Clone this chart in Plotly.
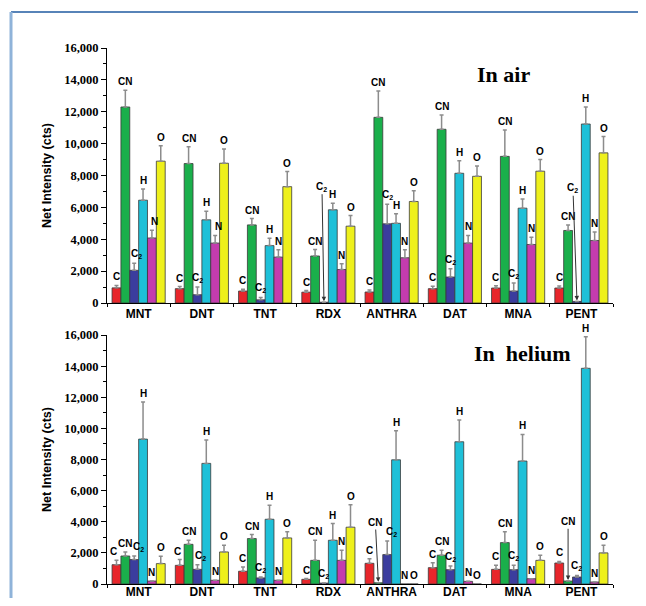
import plotly.graph_objects as go

categories = ["MNT", "DNT", "TNT", "RDX", "ANTHRA", "DAT", "MNA", "PENT"]
series_names = ["C", "CN", "C2", "H", "N", "O"]
series_labels = ["C", "CN", "C<sub>2</sub>", "H", "N", "O"]
series_colors = ["#e8262b", "#1aaf4b", "#3b3d9e", "#1ec0d8", "#c43cae", "#eef01c"]

# In air
air_C = [950, 900, 750, 680, 690, 900, 940, 940]
air_C_err = [150, 130, 120, 100, 120, 150, 150, 130]
air_CN = [12300, 8750, 4900, 2950, 11650, 10900, 9200, 4550]
air_CN_err = [1050, 1050, 400, 400, 1650, 900, 1650, 350]
air_C2 = [2050, 520, 200, 50, 4970, 1630, 750, 100]
air_C2_err = [450, 480, 150, 0, 1230, 520, 500, 0]
air_H = [6450, 5220, 3600, 5850, 5000, 8140, 5950, 11230]
air_H_err = [700, 540, 470, 410, 600, 790, 580, 1070]
air_N = [4080, 3760, 2880, 2100, 2840, 3760, 3670, 3920]
air_N_err = [480, 480, 460, 360, 500, 480, 460, 530]
air_O = [8900, 8770, 7300, 4820, 6370, 7950, 8270, 9420]
air_O_err = [970, 900, 950, 670, 680, 650, 730, 1020]

# In helium
he_C = [1240, 1200, 820, 300, 1330, 1050, 940, 1350]
he_C_err = [280, 370, 280, 50, 300, 320, 260, 100]
he_CN = [1800, 2550, 2920, 1520, 80, 1850, 2660, 190]
he_CN_err = [260, 260, 260, 1290, 0, 320, 690, 0]
he_C2 = [1570, 940, 390, 60, 1890, 920, 920, 450]
he_C2_err = [230, 300, 60, 0, 880, 240, 280, 100]
he_H = [9310, 7750, 4160, 2810, 7980, 9140, 7900, 13860]
he_H_err = [2390, 1500, 900, 1070, 1870, 1400, 1710, 2020]
he_N = [190, 240, 240, 1520, 0, 170, 340, 130]
he_N_err = [0, 0, 0, 650, 0, 0, 0, 0]
he_O = [1310, 2060, 2960, 3650, 0, 0, 1520, 2000]
he_O_err = [470, 430, 390, 1450, 0, 0, 330, 490]

y_ticks = [0, 2000, 4000, 6000, 8000, 10000, 12000, 14000, 16000]

air_vals = [air_C, air_CN, air_C2, air_H, air_N, air_O]
air_errs = [air_C_err, air_CN_err, air_C2_err, air_H_err, air_N_err, air_O_err]
he_vals = [he_C, he_CN, he_C2, he_H, he_N, he_O]
he_errs = [he_C_err, he_CN_err, he_C2_err, he_H_err, he_N_err, he_O_err]

# labels drawn with arrows: (panel, series index, category index, label height, x offset px)
arrow_labels = [
    ("air", 2, 3, 7300, -2),
    ("air", 2, 7, 7200, -4),
    ("he", 1, 4, 3950, -3),
    ("he", 1, 7, 4000, 0),
]
# small horizontal nudges of plain labels: (panel, series, category, px)
label_nudges = [
    ("he", 0, 0, -3), ("he", 2, 0, 4),
    ("he", 2, 4, 4), ("he", 0, 1, -2), ("he", 2, 1, 3),
    ("air", 4, 0, 3), ("air", 4, 1, 3), ("air", 2, 0, 2),
]

# page body has an 8 px margin, so the figure is drawn inside it
PAD = 8
W, H = 646 - 2 * PAD, 606 - 2 * PAD


def px(x):
    return (x - PAD) / W


def py(y):
    return 1 - (y - PAD) / H


BARGAP = 0.16
nser = len(series_names)
bw = (1 - BARGAP) / nser
offsets = [-(1 - BARGAP) / 2 + bw * (i + 0.5) for i in range(nser)]

fig = go.Figure()
annotations = []
label_font = dict(family="Liberation Sans, Arial", size=10, color="black", weight="bold")

for panel, vals, errs, xa, ya in [("air", air_vals, air_errs, "x", "y"),
                                  ("he", he_vals, he_errs, "x2", "y2")]:
    for i in range(nser):
        fig.add_trace(go.Bar(
            x=categories, y=vals[i], name=series_names[i],
            xaxis=xa, yaxis=ya,
            marker=dict(color=series_colors[i], line=dict(color="#3a3a3a", width=0.8)),
            error_y=dict(type="data", array=errs[i], arrayminus=[0] * len(categories),
                         symmetric=False, color="#8c8c8c", thickness=1.5, width=2),
            showlegend=False,
        ))
        for j in range(len(categories)):
            spec = [a for a in arrow_labels if a[0] == panel and a[1] == i and a[2] == j]
            nud = [a[3] for a in label_nudges if a[0] == panel and a[1] == i and a[2] == j]
            xpos = j + offsets[i]
            if spec:
                annotations.append(dict(
                    x=xpos, y=vals[i][j] + errs[i][j] + 60, xref=xa, yref=ya,
                    text=series_labels[i], showarrow=True, axref="pixel", ax=spec[0][4],
                    ayref=ya, ay=spec[0][3], arrowhead=2, arrowsize=0.9,
                    arrowwidth=1, arrowcolor="#333333", font=label_font,
                ))
            else:
                annotations.append(dict(
                    x=xpos, y=vals[i][j] + errs[i][j], xref=xa, yref=ya,
                    text=series_labels[i], showarrow=False, yanchor="bottom",
                    xanchor="center", yshift=1, xshift=(nud[0] if nud else 0),
                    font=label_font,
                ))

annotations.append(dict(x=px(503), y=py(75), xref="paper", yref="paper",
                        xanchor="center", yanchor="middle",
                        text="In air", showarrow=False,
                        font=dict(family="Liberation Serif, Times New Roman, serif", size=22,
                                  color="black", weight="bold")))
annotations.append(dict(x=px(522), y=py(353), xref="paper", yref="paper",
                        xanchor="center", yanchor="middle",
                        text="In\u00a0 helium", showarrow=False,
                        font=dict(family="Liberation Serif, Times New Roman, serif", size=22,
                                  color="black", weight="bold")))

xdom = [px(107), px(613)]
ydom_top = [py(303), py(48)]
ydom_bot = [py(584), py(335)]

yaxis_common = dict(
    range=[0, 16000], tickvals=y_ticks, tickformat=",d",
    ticks="outside", ticklen=5, tickcolor="black", tickwidth=1,
    minor=dict(dtick=1000, ticks="outside", ticklen=3, tickcolor="black"),
    showline=True, linecolor="black", linewidth=1, showgrid=False, zeroline=False,
    tickfont=dict(family="Liberation Serif, Times New Roman, serif", size=12.5,
                  color="black", weight="bold"),
    title=dict(text="Net Intensity (cts)", standoff=9,
               font=dict(family="Liberation Sans, Arial", size=12.5, color="black", weight="bold")),
    automargin=False, fixedrange=True,
)
xaxis_common = dict(
    domain=xdom, showline=True, linecolor="black", linewidth=1,
    ticks="outside", tickson="boundaries", ticklen=3, tickcolor="black",
    showgrid=False, zeroline=False, automargin=False,
    tickfont=dict(family="Liberation Sans, Arial", size=12, color="black", weight="bold"),
    range=[-0.5, len(categories) - 0.5],
)

fig.update_layout(
    width=W, height=H, autosize=False,
    margin=dict(l=0, r=0, t=0, b=0, pad=0),
    paper_bgcolor="white", plot_bgcolor="white",
    barmode="group", bargap=BARGAP, bargroupgap=0,
    xaxis=dict(anchor="y", **xaxis_common),
    xaxis2=dict(anchor="y2", ticklabelstandoff=-3, **xaxis_common),
    yaxis=dict(anchor="x", domain=ydom_top, **yaxis_common),
    yaxis2=dict(anchor="x2", domain=ydom_bot, **yaxis_common),
    annotations=annotations,
    shapes=[
        dict(type="line", xref="paper", yref="paper", x0=px(11), x1=1, y0=py(12), y1=py(12),
             line=dict(color="#1f5aa0", width=1.5)),
        dict(type="line", xref="paper", yref="paper", x0=px(11), x1=px(11), y0=0, y1=py(12),
             line=dict(color="#8fb3d9", width=3)),
    ],
    showlegend=False,
)

fig.write_html("out.html")
